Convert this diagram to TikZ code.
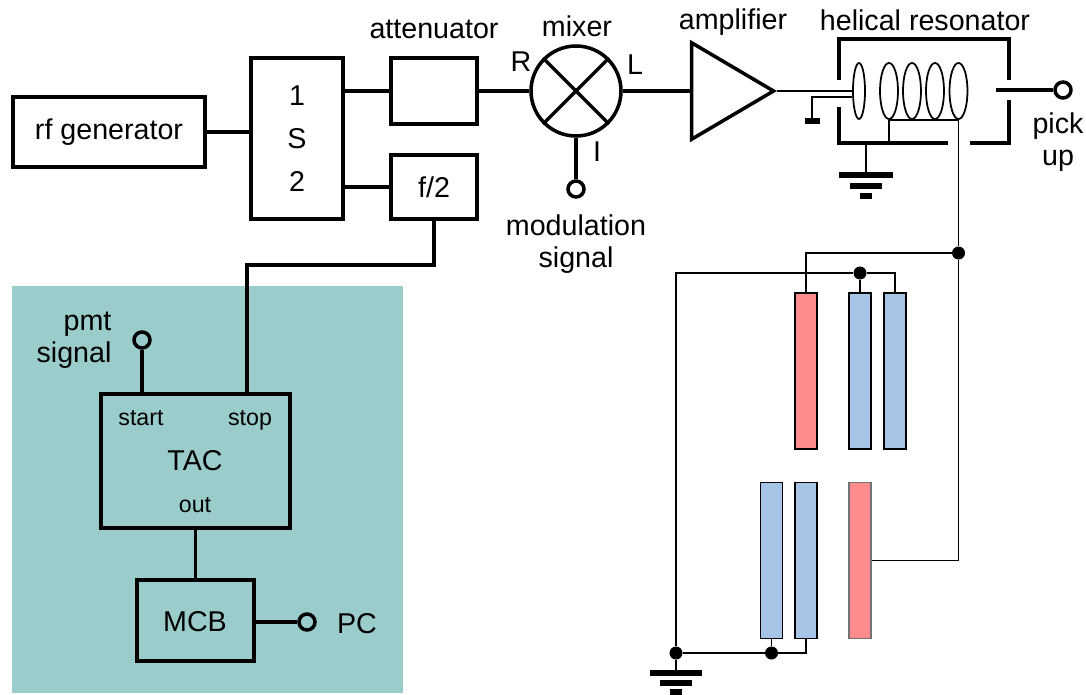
\documentclass[tikz,border=0pt]{standalone}
\usepackage{fontspec}
\setmainfont{Liberation Sans}
\usetikzlibrary{shapes.geometric}
\definecolor{panelteal}{HTML}{9ACCCB}
\definecolor{platered}{HTML}{FF8C8C}
\definecolor{plateblue}{HTML}{A6C4E6}
\begin{document}
\begin{tikzpicture}[x=0.2mm, y=-0.2mm,
  box/.style={draw, line width=2pt, inner sep=0pt, align=center},
  label/.style={inner sep=0pt, align=center, font=\fontsize{16.3}{18.1}\selectfont},
  small/.style={inner sep=0pt, font=\fontsize{13.2}{16}\selectfont},
  wire/.style={line width=2pt},
  thinwire/.style={line width=1pt},
  port/.style={draw, circle, line width=2pt, minimum size=3.2mm, inner sep=0pt},
  junction/.style={fill=black, circle, minimum size=2.6mm, inner sep=0pt},
  turn/.style={draw, ellipse, line width=1pt, minimum width=3.6mm, minimum height=11.2mm, inner sep=0pt},
  plate/.style={draw, line width=1pt, minimum width=4.4mm, minimum height=31.2mm, inner sep=0pt},
  gbar/.style={line width=3pt}]
  \useasboundingbox (0,0) rectangle (1086,695);
  % shaded part
  \node[fill=panelteal, minimum width=78.2mm, minimum height=81.4mm, inner sep=0pt] (panel) at (207.5,489.5) {};
  % top chain
  \node[box, label, minimum width=38.4mm, minimum height=14mm] (rf) at (109,132) {rf generator};
  \node[box, label, minimum width=18.4mm, minimum height=32.2mm] (sw) at (297,138.5) {};
  \node[label] (swa) at (297,96) {1};
  \node[label] (swb) at (297,139) {S};
  \node[label] (swc) at (297,181) {2};
  \node[box, minimum width=17.2mm, minimum height=13.2mm] (att) at (434,91) {};
  \node[box, label, minimum width=17.2mm, minimum height=12.8mm] (half) at (434,187) {f/2};
  \node[box, circle, minimum size=18mm] (mix) at (576,91) {};
  \draw[wire] (mix.45) -- (mix.225);
  \draw[wire] (mix.135) -- (mix.315);
  \node[box, isosceles triangle, isosceles triangle apex angle=61, minimum height=16.4mm, anchor=apex] (amp) at (777,91) {};
  \node[port] (modp) at (576,189) {};
  \node[port] (pup) at (1063,90) {};
  % labels of the top chain
  \node[label] (attl) at (434,29) {attenuator};
  \node[label] (mixl) at (577,26) {mixer};
  \node[label] (ampl) at (733,22) {amplifier};
  \node[label] (resl) at (925,20) {helical resonator};
  \node[label] (rl) at (521,62) {R};
  \node[label] (ll) at (635,65) {L};
  \node[label] (il) at (597,152) {I};
  \node[label] (modl) at (576,244) {modulation\\signal};
  \node[label] (pupl) at (1058,142) {pick\\up};
  % forward connections
  \draw[wire] (rf) -- (rf -| sw.west);
  \draw[wire] (sw.east |- att) -- (att);
  \draw[wire] (sw.east |- half) -- (half);
  \draw[wire] (att) -- (mix);
  \draw[wire] (mix) -- (amp.west);
  \draw[wire] (mix) -- (modp);
  % resonator can
  \draw[line width=2.4pt] (839,80) -- (839,39) -- (1009,39) -- (1009,80);
  \draw[line width=2.4pt] (839,107) -- (839,143) -- (948,143);
  \draw[line width=2.4pt] (970,143) -- (1009,143) -- (1009,100);
  \coordinate (canb) at (866,143);
  \coordinate (gndr) at (866,175);
  \coordinate (stub) at (812,121);
  \coordinate (pin) at (996,90);
  \node[turn, minimum width=2.4mm] (loop) at (859,91) {};
  \foreach \n/\x in {b/889,c/912,d/935,e/958.5}
    \node[turn] (coil\n) at (\x,91) {};
  \draw[line width=1.1pt] (amp.east) -- (loop.west);
  \draw[line width=1.1pt] ([yshift=-1.2mm]loop.west) -| (stub);
  \draw[gbar] (805,121) -- (820,121);
  \draw[thinwire] (coilb.south) -- (coile.south);
  \draw[thinwire] (coilb.south) -- (coilb.south |- canb);
  \draw[thinwire] (canb) -- (gndr);
  \draw[wire] (pin) -- (pup);
  \foreach \y/\w in {175/27,186/16,196/6}
    \draw[gbar] (866-\w,\y) -- (866+\w,\y);
  % plates
  \node[plate, fill=platered] (redup) at (806,371) {};
  \node[plate, fill=plateblue] (blueb) at (860,371) {};
  \node[plate, fill=plateblue] (bluec) at (895,371) {};
  \node[plate, fill=plateblue] (blued) at (771.5,560.5) {};
  \node[plate, fill=plateblue] (bluee) at (806,560.5) {};
  \node[plate, fill=platered, draw=black!55] (redlow) at (860,560.5) {};
  \node[junction] (tap) at (958.5,253) {};
  \node[junction] (topdot) at (860,273) {};
  \node[junction] (gnda) at (676,653) {};
  \node[junction] (lowdot) at (771.5,653) {};
  \coordinate (gndl) at (676,673);
  % plate wiring
  \draw[thinwire] (coile.south) -- (tap);
  \draw[thinwire] (tap) |- (redlow.east);
  \draw[thinwire] (tap) -| (redup.north);
  \draw[thinwire] (gnda) |- (topdot);
  \draw[thinwire] (topdot) -- (blueb.north);
  \draw[thinwire] (topdot) -| (bluec.north);
  \draw[thinwire] (gnda) -- (lowdot);
  \draw[thinwire] (lowdot) -- (blued.south);
  \draw[thinwire] (lowdot) -| (bluee.south);
  \draw[thinwire] (gnda) -- (gndl);
  \foreach \y/\w in {673/26,683/16,692/6}
    \draw[gbar] (676-\w,\y) -- (676+\w,\y);
  % timing electronics
  \node[box, minimum width=37.8mm, minimum height=26.8mm] (tac) at (195.5,461) {};
  \node[label] (tacl) at (195,461) {TAC};
  \node[small] (startl) at (141,418) {start};
  \node[small] (stopl) at (250,420) {stop};
  \node[small] (outl) at (195,505) {out};
  \node[box, minimum width=23.4mm, minimum height=16.2mm] (mcb) at (195.5,620.5) {};
  \node[label] (mcbl) at (195,622) {MCB};
  \node[port] (pmtp) at (142,340) {};
  \node[port] (pcp) at (307,622) {};
  \node[label, align=right] (pmtl) at (74,340) {pmt\\signal};
  \node[label] (pcl) at (357,624) {PC};
  \coordinate (stopc) at (247,394);
  \draw[wire] (pmtp) -- (pmtp |- tac.north);
  \draw[wire] (stopc) |- (247,265) -| (half.south);
  \draw[wire] (tac) -- (mcb);
  \draw[wire] (mcb.east |- pcp) -- (pcp);
\end{tikzpicture}
\end{document}
